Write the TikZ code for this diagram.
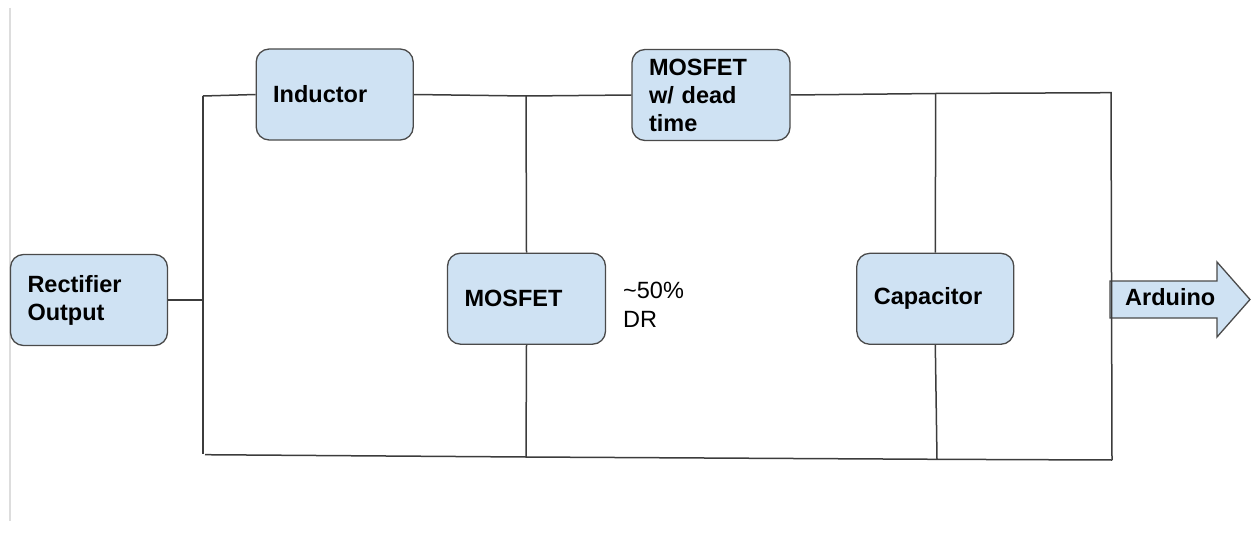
\documentclass[tikz,border=0pt]{standalone}
\usepackage{fontspec}
\setmainfont{Liberation Sans}
\definecolor{boxfill}{HTML}{CFE2F3}
\definecolor{boxline}{HTML}{4A4A4A}
\definecolor{wirec}{HTML}{3C3C3C}
\definecolor{edgegray}{HTML}{DDDDDD}
\begin{document}
\begin{tikzpicture}[x=1pt,y=-1pt,
  box/.style={draw=boxline, fill=boxfill, line width=1.3pt, rounded corners=13pt,
    inner xsep=17pt, inner ysep=0pt, text width=#1, align=left,
    font=\fontsize{23.5}{28}\selectfont\bfseries, minimum height=91pt},
  box/.default=123pt,
  wire/.style={draw=wirec, line width=1.5pt},
  plain/.style={font=\fontsize{23.5}{29}\selectfont, inner sep=0pt}]
\useasboundingbox (0,0) rectangle (1251,535);
% left edge line
\draw[edgegray, line width=2pt] (9.5,8) -- (9.5,521);
% boxes
\node[box] (rect) at (89,300) {Rectifier\\Output};
\node[box] (ind) at (334.7,94.5) {Inductor};
\node[box=124pt] (mdt) at (711,95) {MOSFET\\w/ dead\\time};
\node[box=124pt] (mos) at (526.5,298.7) {MOSFET};
\node[box] (cap) at (935.3,298.8) {Capacitor};
\node[plain, anchor=base west, align=left] (dr) at (623,327) {\textasciitilde 50\%\\DR};
% junction coordinates
\coordinate (tl) at (203,96);
\coordinate (bl) at (203,454);
\coordinate (bls) at (205,454.7);
\coordinate (tm) at (526,96);
\coordinate (bm) at (526,457);
\coordinate (tc) at (935.7,93.5);
\coordinate (bc) at (937,459.3);
\coordinate (tr) at (1111,92.7);
\coordinate (br) at (1112,460);
% arrow
\coordinate (a1) at (1110,281);
\coordinate (a2) at (1217,281);
\coordinate (a3) at (1217,262);
\coordinate (a4) at (1250,299.5);
\coordinate (a5) at (1217,337);
\coordinate (a6) at (1217,318);
\coordinate (a7) at (1110,318);
\draw[boxline, fill=boxfill, line width=1.3pt, line join=miter]
  (a1) -- (a2) -- (a3) -- (a4) -- (a5) -- (a6) -- (a7) -- cycle;
\node[anchor=base west, inner sep=0pt, font=\fontsize{23.5}{28}\selectfont\bfseries] (ard) at (1125,305) {Arduino};
% wires
\draw[wire] (rect.east) -- (rect.east -| tl);
\draw[wire] (tl) -- (bl);
\draw[wire] (tl) -- (ind.west);
\draw[wire] (ind.east) -- (tm) -- (mdt.west);
\draw[wire] (mdt.east) -- (tc) -- (tr) -- (br);
\draw[wire] (tm) -- (mos.north);
\draw[wire] (mos.south) -- (bm);
\draw[wire] (tc) -- (cap.north);
\draw[wire] (cap.south) -- (bc);
\draw[wire] (bls) -- (bm) -- (bc) -- (br);
\end{tikzpicture}
\end{document}
